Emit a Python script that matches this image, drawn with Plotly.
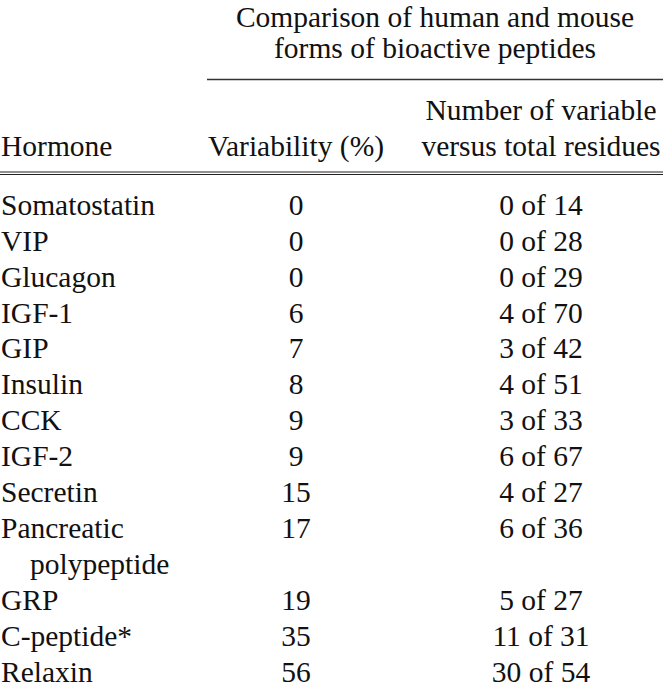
import plotly.graph_objects as go

hormones = ["Somatostatin", "VIP", "Glucagon", "IGF-1", "GIP", "Insulin", "CCK",
            "IGF-2", "Secretin", "Pancreatic polypeptide", "GRP", "C-peptide*", "Relaxin"]
variability = [0, 0, 0, 6, 7, 8, 9, 9, 15, 17, 19, 35, 56]
variable_res = [0, 0, 0, 4, 3, 4, 3, 6, 4, 6, 5, 11, 30]
total_res = [14, 28, 29, 70, 42, 51, 33, 67, 27, 36, 27, 31, 54]

group_title = ["Comparison of human and mouse", "forms of bioactive peptides"]
col_titles = ["Hormone", "Variability (%)", "Number of variable<br>versus total residues"]

FONT = "Liberation Serif, Times New Roman, serif"
FS = 29.5
ROW_PX = 35.9
FIRST_PX = 207.5   # pixel row of the first body line
DY = 2.5           # glyph offset applied to header rows too


def slot(px):
    # convert a pixel row to line-slot units
    return (px - FIRST_PX) / ROW_PX


# lay rows out in line slots; long names wrap onto a second line
name_y, name_txt, name_y2, name_txt2 = [], [], [], []
row_y = []
s = 0
for h in hormones:
    row_y.append(s)
    if len(h) > 14:
        first, rest = h.split(" ", 1)
        name_txt.append(first)
        name_y.append(s)
        name_txt2.append(rest)
        name_y2.append(s + 1)
        s += 2
    else:
        name_txt.append(h)
        name_y.append(s)
        s += 1

fig = go.Figure()
fig.add_trace(go.Scatter(x=[1] * len(name_txt), y=name_y, text=name_txt, mode="text",
                         textposition="middle right", hoverinfo="skip"))
fig.add_trace(go.Scatter(x=[30] * len(name_txt2), y=name_y2, text=name_txt2, mode="text",
                         textposition="middle right", hoverinfo="skip"))
fig.add_trace(go.Scatter(x=[296] * len(variability), y=row_y, text=[str(v) for v in variability],
                         mode="text", textposition="middle center", hoverinfo="skip"))
fig.add_trace(go.Scatter(x=[541] * len(total_res), y=row_y,
                         text=[f"{a} of {b}" for a, b in zip(variable_res, total_res)],
                         mode="text", textposition="middle center", hoverinfo="skip"))

# header text
fig.add_trace(go.Scatter(x=[435, 435], y=[slot(17 + DY), slot(48.5 + DY)], text=group_title,
                         mode="text", textposition="middle center", hoverinfo="skip"))
fig.add_trace(go.Scatter(x=[1], y=[slot(146.5 + DY)], text=[col_titles[0]], mode="text",
                         textposition="middle right", hoverinfo="skip"))
fig.add_trace(go.Scatter(x=[296], y=[slot(146.5 + DY)], text=[col_titles[1]], mode="text",
                         textposition="middle center", hoverinfo="skip"))
fig.add_trace(go.Scatter(x=[541, 541], y=[slot(110.5 + DY), slot(146.5 + DY)],
                         text=col_titles[2].split("<br>"),
                         mode="text", textposition="middle center", hoverinfo="skip"))

fig.update_traces(textfont=dict(family=FONT, size=FS, color="#111111"), showlegend=False,
                  cliponaxis=False)

# rules
fig.add_shape(type="line", x0=207, x1=663, y0=slot(79.5), y1=slot(79.5),
              line=dict(color="#333333", width=1.5))
for py in (172, 174.5):
    fig.add_shape(type="line", x0=0, x1=663, y0=slot(py), y1=slot(py),
                  line=dict(color="#222222", width=1.2))

fig.update_layout(
    width=663, height=686,
    margin=dict(l=0, r=0, t=0, b=0),
    paper_bgcolor="white", plot_bgcolor="white",
    xaxis=dict(range=[0, 663], visible=False, fixedrange=True),
    yaxis=dict(range=[slot(686), slot(0)], visible=False, fixedrange=True),
)

fig.write_html("out.html", config={"displayModeBar": False},
               post_script="document.body.style.margin='0';")
